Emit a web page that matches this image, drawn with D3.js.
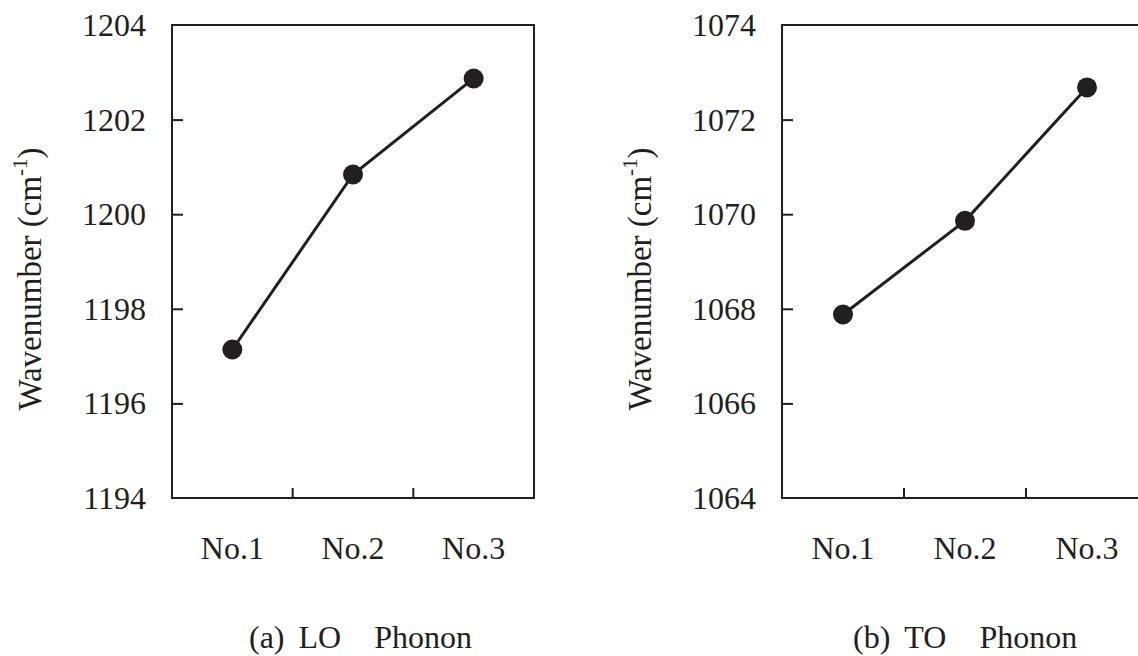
<!DOCTYPE html>
<html>
<head>
<meta charset="utf-8">
<script src="https://cdn.jsdelivr.net/npm/d3@7"></script>
<style>
  body { margin: 0; background: #fff; }
  svg text { font-family: "Liberation Serif", "Times New Roman", Times, "DejaVu Serif", serif; fill: #231f20; }
</style>
</head>
<body>
<div id="chart"></div>
<script>
// data
var samples = ["No.1", "No.2", "No.3"];
var loValues = [1197.14, 1200.84, 1202.87];   // (a) LO phonon
var toValues = [1067.88, 1069.86, 1072.68];   // (b) TO phonon
var loTicks = [1194, 1196, 1198, 1200, 1202, 1204];
var toTicks = [1064, 1066, 1068, 1070, 1072, 1074];
var captions = [["(a)", "LO", "Phonon"], ["(b)", "TO", "Phonon"]];

var width = 1138, height = 656;
var ink = "#231f20";

var svg = d3.select("#chart").append("svg")
            .attr("width", width)
            .attr("height", height);

// panel boxes (the right one runs past the edge of the page in the original)
var panels = [
  {x0: 172, x1: 534, values: loValues, ticks: loTicks, caption: captions[0], labelX: 40, capX: 249},
  {x0: 782, x1: 1148, values: toValues, ticks: toTicks, caption: captions[1], labelX: 650, capX: 853}
];
var plotTop = 25, plotBottom = 498;

panels.forEach(function(p){
  drawPanel(p);
});

function drawPanel (p) {
  var g = svg.append("g");

  var x = d3.scaleBand().domain(samples).range([p.x0, p.x1]);
  var y = d3.scaleLinear()
            .domain([p.ticks[0], p.ticks[p.ticks.length - 1]])
            .range([plotBottom, plotTop]);

  // frame
  g.append("rect")
   .attr("x", p.x0).attr("y", plotTop)
   .attr("width", p.x1 - p.x0).attr("height", plotBottom - plotTop)
   .attr("fill", "none")
   .attr("stroke", ink)
   .attr("stroke-width", 2);

  // y axis, ticks pointing inward
  var yAxis = d3.axisLeft(y).tickValues(p.ticks).tickSize(-11).tickPadding(26)
                .tickFormat(d3.format("d"));
  var ya = g.append("g").attr("transform", "translate(" + p.x0 + ",0)").call(yAxis);
  ya.attr("font-family", null).attr("font-size", 32);
  ya.select(".domain").remove();
  ya.selectAll(".tick line").attr("stroke", ink).attr("stroke-width", 2)
    .filter(function(d){ return d == p.ticks[0] || d == p.ticks[p.ticks.length - 1]; }).remove();
  ya.selectAll(".tick text")
    .attr("fill", ink)
    .attr("dy", "0.33em");

  // x axis: tick marks at band edges, labels at band centres
  var edges = samples.slice(1).map(function(s){ return x(s); });
  g.selectAll(".xtick")
   .data(edges)
   .enter().append("line")
   .attr("x1", function(d){ return d; })
   .attr("x2", function(d){ return d; })
   .attr("y1", plotBottom)
   .attr("y2", plotBottom - 10)
   .attr("stroke", ink)
   .attr("stroke-width", 2);

  g.selectAll(".xlabel")
   .data(samples)
   .enter().append("text")
   .attr("x", function(d){ return x(d) + x.bandwidth() / 2; })
   .attr("y", 559)
   .attr("text-anchor", "middle")
   .attr("font-size", 32)
   .text(function(d){ return d; });

  // y label
  var yl = g.append("text")
            .attr("transform", "translate(" + (p.labelX + 1) + "," + 279 + ") rotate(-90)")
            .attr("text-anchor", "middle")
            .attr("font-size", 33);
  yl.append("tspan").text("Wavenumber (cm");
  yl.append("tspan").attr("dy", -14).attr("font-size", 21).text("-1");
  yl.append("tspan").attr("dy", 14).text(")");

  // caption: three words with the gaps seen in the original
  var cap = g.append("text")
             .attr("x", p.capX)
             .attr("y", 648)
             .attr("font-size", 32);
  cap.append("tspan").text(p.caption[0]);
  cap.append("tspan").attr("dx", 14).text(p.caption[1]);
  cap.append("tspan").attr("dx", 33).text(p.caption[2]);

  // series
  var line = d3.line()
               .x(function(d, i){ return x(samples[i]) + x.bandwidth() / 2; })
               .y(function(d){ return y(d); });

  g.append("path")
   .datum(p.values)
   .attr("d", line)
   .attr("fill", "none")
   .attr("stroke", ink)
   .attr("stroke-width", 3);

  g.selectAll(".pt")
   .data(p.values)
   .enter().append("circle")
   .attr("cx", function(d, i){ return x(samples[i]) + x.bandwidth() / 2; })
   .attr("cy", function(d){ return y(d); })
   .attr("r", 10)
   .attr("fill", ink);
}
</script>
</body>
</html>
